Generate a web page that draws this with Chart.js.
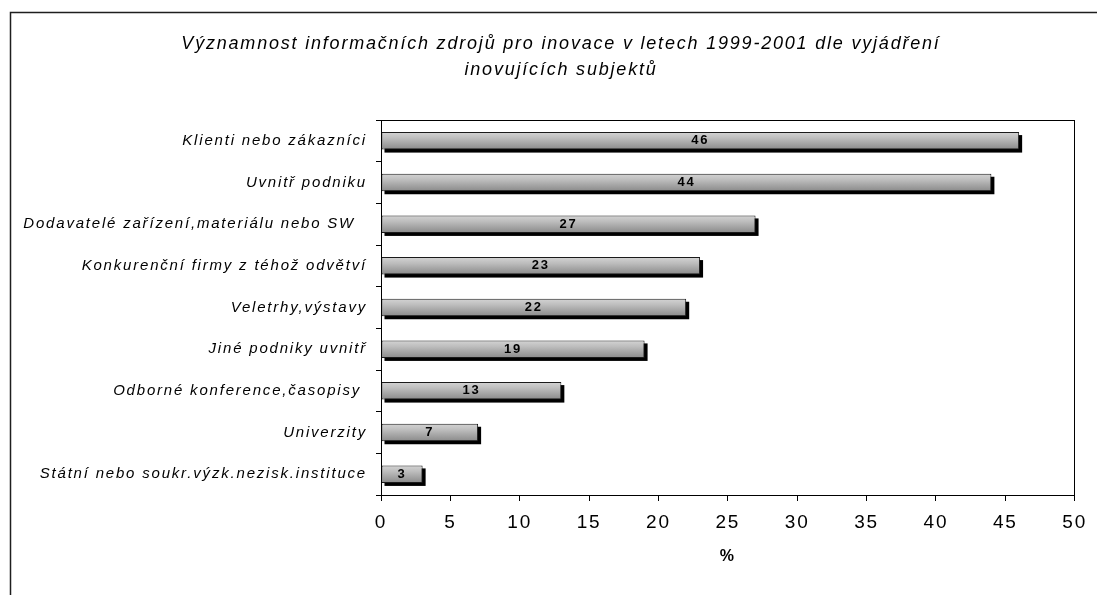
<!DOCTYPE html>
<html>
<head>
<meta charset="utf-8">
<script src="https://cdn.jsdelivr.net/npm/chart.js@4.4.1/dist/chart.umd.min.js"></script>
<style>
  html, body { margin: 0; padding: 0; background: #fff; overflow: hidden; }
  #wrap { width: 1097px; height: 595px; }
</style>
</head>
<body>
<div id="wrap"><canvas id="c" width="1097" height="595"></canvas></div>
<script>
// Chart text and data
const titleLines = [
  'Významnost informačních zdrojů pro inovace v letech 1999-2001 dle vyjádření',
  'inovujících subjektů'
];
const categories = [
  'Klienti nebo zákazníci',
  'Uvnitř podniku',
  'Dodavatelé zařízení,materiálu nebo SW  ',
  'Konkurenční firmy z téhož odvětví',
  'Veletrhy,výstavy',
  'Jiné podniky uvnitř',
  'Odborné konference,časopisy ',
  'Univerzity',
  'Státní nebo soukr.výzk.nezisk.instituce'
];
const values = [46, 44, 27, 23, 22, 19, 13, 7, 3];
const xMin = 0;
const xMax = 50;
const xStep = 5;
const xTitle = '%';

const BAR_PCT = 0.42;
const LETTER_SPACING = '1.8px';
const PLOT_LEFT = 381;
const PLOT_TOP = 120;
const TITLE_X = 561;
const TITLE_Y = 44;
const TITLE_LINE = 26;

// wide letter spacing for all canvas text
const letterSpacing = {
  id: 'letterSpacing',
  beforeUpdate(chart) { chart.ctx.letterSpacing = LETTER_SPACING; },
  beforeDraw(chart) { chart.ctx.letterSpacing = LETTER_SPACING; }
};

// white page, outer frame (left and top edges), two-line heading, plot box
const frame = {
  id: 'frame',
  beforeDraw(chart) {
    const ctx = chart.ctx;
    ctx.save();
    ctx.fillStyle = '#fff';
    ctx.fillRect(0, 0, chart.width, chart.height);
    ctx.strokeStyle = '#1e1e1e';
    ctx.lineWidth = 1.5;
    ctx.beginPath();
    ctx.moveTo(10.5, chart.height);
    ctx.lineTo(10.5, 12.5);
    ctx.lineTo(chart.width, 12.5);
    ctx.stroke();

    ctx.fillStyle = '#000';
    ctx.font = 'italic 18px "Liberation Sans", Arial, sans-serif';
    ctx.textAlign = 'center';
    ctx.textBaseline = 'middle';
    titleLines.forEach((line, i) => ctx.fillText(line, TITLE_X, TITLE_Y + i * TITLE_LINE));
    ctx.restore();
  },
  afterDraw(chart) {
    const a = chart.chartArea;
    const ctx = chart.ctx;
    ctx.save();
    ctx.strokeStyle = '#000';
    ctx.lineWidth = 1;
    ctx.strokeRect(Math.round(a.left) + 0.5, Math.round(a.top) + 0.5,
                   Math.round(a.right - a.left) - 1, Math.round(a.bottom - a.top));
    ctx.restore();
  }
};

// solid drop shadow behind each bar, and the value label inside it
const barDecor = {
  id: 'barDecor',
  beforeDatasetsDraw(chart) {
    const ctx = chart.ctx;
    const meta = chart.getDatasetMeta(0);
    ctx.save();
    ctx.fillStyle = '#000';
    meta.data.forEach(bar => {
      const p = bar.getProps(['x', 'y', 'base', 'height'], true);
      const left = Math.min(p.base, p.x);
      ctx.fillRect(left + 3, p.y - p.height / 2 + 3, Math.abs(p.x - p.base), p.height);
    });
    ctx.restore();
  },
  afterDatasetsDraw(chart) {
    const ctx = chart.ctx;
    const meta = chart.getDatasetMeta(0);
    ctx.save();
    ctx.fillStyle = '#000';
    ctx.font = 'bold 13px "Liberation Sans Narrow", "Liberation Sans", sans-serif';
    ctx.textAlign = 'center';
    ctx.textBaseline = 'middle';
    meta.data.forEach((bar, i) => {
      const p = bar.getProps(['x', 'y', 'base'], true);
      ctx.fillText(String(values[i]), (p.x + p.base) / 2, p.y);
    });
    ctx.restore();
  }
};

function barFill(context) {
  const chart = context.chart;
  const ys = chart.scales && chart.scales.y;
  if (!ys || !chart.chartArea || context.type !== 'data') return '#b0b0b0';
  const cy = ys.getPixelForValue(context.dataIndex);
  const half = (ys.height / categories.length) * BAR_PCT / 2;
  const g = chart.ctx.createLinearGradient(0, cy - half, 0, cy + half);
  g.addColorStop(0, '#d4d4d4');
  g.addColorStop(0.35, '#bdbdbd');
  g.addColorStop(0.6, '#a9a9a9');
  g.addColorStop(1, '#8a8a8a');
  return g;
}

new Chart(document.getElementById('c'), {
  type: 'bar',
  data: {
    labels: categories,
    datasets: [{
      data: values,
      backgroundColor: barFill,
      borderColor: '#1a1a1a',
      borderWidth: 1,
      borderSkipped: false,
      categoryPercentage: 1,
      barPercentage: BAR_PCT
    }]
  },
  options: {
    indexAxis: 'y',
    responsive: false,
    animation: false,
    devicePixelRatio: 1,
    layout: { padding: { left: 0, right: 20, top: PLOT_TOP, bottom: 0 } },
    plugins: {
      legend: { display: false },
      tooltip: { enabled: false },
      title: { display: false }
    },
    scales: {
      x: {
        type: 'linear',
        min: xMin,
        max: xMax,
        afterFit(scale) { scale.height = 100; },
        ticks: {
          stepSize: xStep,
          color: '#000',
          padding: 10,
          font: { family: '"Liberation Sans Narrow", "Liberation Sans", sans-serif', size: 19 }
        },
        grid: { drawOnChartArea: false, drawTicks: true, tickLength: 6, color: '#000', lineWidth: 1 },
        border: { display: true, color: '#000', width: 1 },
        title: {
          display: true,
          text: xTitle,
          color: '#000',
          font: { family: '"Liberation Sans", Arial, sans-serif', size: 16, weight: 'bold' },
          padding: { top: 0, bottom: 29 }
        }
      },
      y: {
        afterFit(scale) { scale.width = PLOT_LEFT; },
        ticks: {
          color: '#000',
          padding: 9,
          font: { family: '"Liberation Sans", Arial, sans-serif', size: 15, style: 'italic' }
        },
        grid: { drawOnChartArea: false, drawTicks: true, tickLength: 5, color: '#000', lineWidth: 1, offset: true },
        border: { display: true, color: '#000', width: 1 }
      }
    }
  },
  plugins: [letterSpacing, frame, barDecor]
});
</script>
</body>
</html>
